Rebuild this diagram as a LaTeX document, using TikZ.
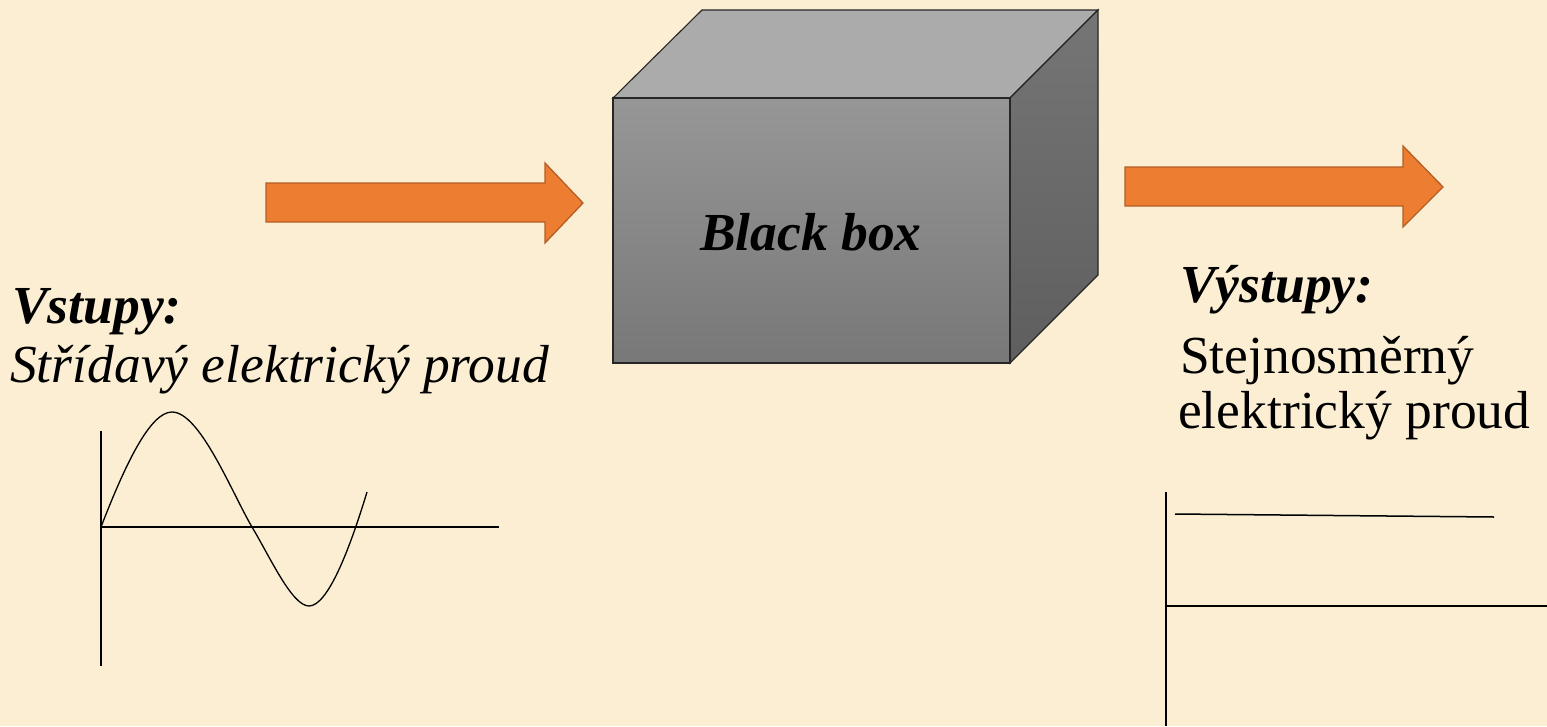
\documentclass[tikz,border=0pt]{standalone}
\usepackage{fontspec}
\setmainfont{Liberation Serif}
\definecolor{parchment}{HTML}{FBEED3}
\definecolor{arroworange}{HTML}{ED7D31}
\definecolor{arrowedge}{HTML}{B45E25}
\definecolor{boxtop}{HTML}{ABABAB}
\begin{document}
\begin{tikzpicture}
      [
      x=1pt,y=-1pt,
      bodytext/.style={anchor=base west,inner sep=0pt,font=\fontsize{53.5}{64}\selectfont},
      headtext/.style={bodytext,font=\fontsize{53.5}{64}\selectfont\bfseries\itshape},
      blockarrow/.style={draw=arrowedge,fill=arroworange,line width=1.3pt,line join=miter},
      face/.style={draw=black!85,line width=1.1pt,line join=miter},
      axis/.style={line width=1.5pt},
      wave/.style={line width=1.3pt}
      ]
      \path[use as bounding box,fill=parchment] (0,0) rectangle (1547,726);

      % the box
      \coordinate (fA) at (613,98);
      \coordinate (fB) at (1010,98);
      \coordinate (fC) at (1010,363);
      \coordinate (fD) at (613,363);
      \coordinate (bA) at (702,10);
      \coordinate (bB) at (1098,10);
      \coordinate (bC) at (1098,275);
      \draw[face,fill=boxtop] (fA) -- (bA) -- (bB) -- (fB) -- cycle;
      \draw[face,top color=black!54,bottom color=black!63] (fB) -- (bB) -- (bC) -- (fC) -- cycle;
      \draw[face,top color=black!41,bottom color=black!53] (fA) rectangle (fC);
      \node (bb) at (811,250) [anchor=base,font=\fontsize{53.5}{64}\selectfont\bfseries\itshape] {Black box};

      % in and out arrows
      \draw[blockarrow] (266,183) -- (545,183) -- (545,163) -- (583,203) -- (545,243) -- (545,222) -- (266,222) -- cycle;
      \draw[blockarrow] (1125,167) -- (1403,167) -- (1403,146) -- (1443,187) -- (1403,227) -- (1403,206) -- (1125,206) -- cycle;

      \node (inhead) at (12,323) [headtext] {Vstupy:};
      \node (intext) at (10,382) [bodytext,font=\fontsize{53.5}{64}\selectfont\itshape] {Střídavý elektrický proud};
      \node (outhead) at (1180,302) [headtext] {Výstupy:};
      \node (outtext) at (1180,373) [bodytext] {Stejnosměrný};
      \node (outtext2) at (1178,428) [bodytext] {elektrický proud};

      % alternating current
      \coordinate (acO) at (101,527);
      \draw[axis] (101,431) -- (101,666);
      \draw[axis] (acO) -- (499,527);
      \draw[wave] (acO) .. controls (125,465) and (150,412) .. (172,412)
        .. controls (200,412) and (232,493) .. (252,527)
        .. controls (270,557) and (292,606) .. (309,606)
        .. controls (328,606) and (350,548) .. (367,492);

      % direct current
      \coordinate (dcO) at (1166,606);
      \draw[axis] (1166,492) -- (1166,726);
      \draw[axis] (dcO) -- (1547,606);
      \draw[axis] (1175,514) -- (1494,517);
\end{tikzpicture}
\end{document}
